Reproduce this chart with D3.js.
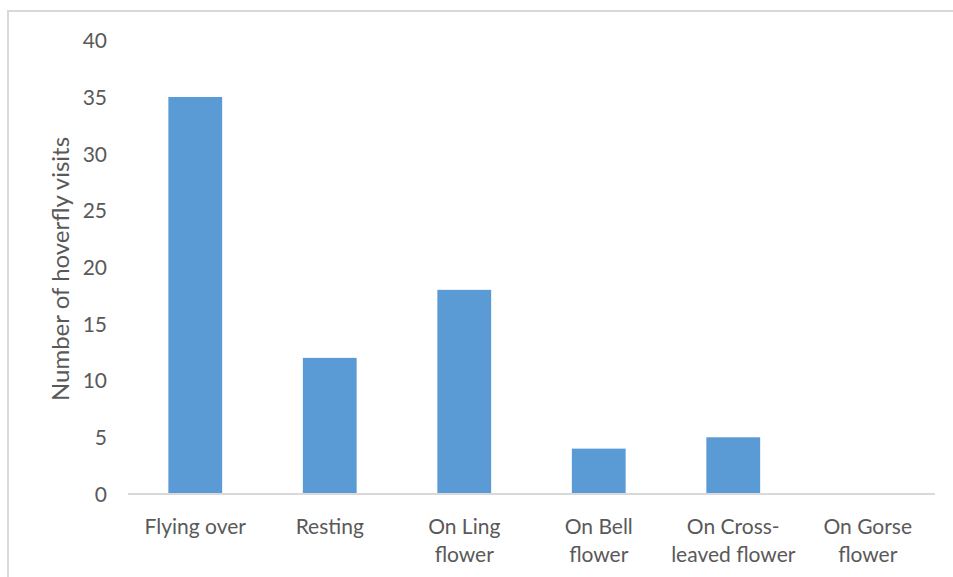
<!DOCTYPE html>
<html>
<head>
<meta charset="utf-8">
<script src="https://cdn.jsdelivr.net/npm/d3@7"></script>
<style>
  html, body { margin: 0; padding: 0; background: #fff; }
  svg { display: block; }
  text { font-family: Lato, "Open Sans", sans-serif; fill: #595959; }
</style>
</head>
<body>
<svg id="chart" width="953" height="577"></svg>
<script>
// Hoverfly behaviour counts
const categories = [
  ["Flying over"],
  ["Resting"],
  ["On Ling", "flower"],
  ["On Bell", "flower"],
  ["On Cross-", "leaved flower"],
  ["On Gorse", "flower"]
];
const visits = [35, 12, 18, 4, 5, 0];
const yTicks = [0, 5, 10, 15, 20, 25, 30, 35, 40];
const yTitle = "Number of hoverfly visits";

const svg = d3.select("#chart");
const margin = { left: 128, right: 18, top: 40.3, bottom: 83 };
const W = 953, H = 577;

// chart frame (top and left edges)
svg.append("path")
  .attr("d", `M8,577 V11 H953`)
  .attr("fill", "none")
  .attr("stroke", "#d9d9d9")
  .attr("stroke-width", 2);

const x = d3.scaleBand()
  .domain(categories.map((d, i) => i))
  .range([margin.left, W - margin.right])
  .paddingInner(0.6)
  .paddingOuter(0.3);

const y = d3.scaleLinear()
  .domain([0, 40])
  .range([494, margin.top]);

// bars
svg.append("g").selectAll("rect")
  .data(visits)
  .join("rect")
  .attr("x", (d, i) => x(i))
  .attr("width", x.bandwidth())
  .attr("y", d => y(d))
  .attr("height", d => y(0) - y(d))
  .attr("fill", "#5b9bd5");

// category axis line
svg.append("line")
  .attr("x1", margin.left).attr("x2", W - margin.right)
  .attr("y1", y(0)).attr("y2", y(0))
  .attr("stroke", "#d9d9d9").attr("stroke-width", 2);

// value axis labels
const yAxis = d3.axisLeft(y).tickValues(yTicks).tickSize(0).tickPadding(0);
const gy = svg.append("g").attr("transform", "translate(107,0)").call(yAxis);
gy.select(".domain").remove();
gy.selectAll("text")
  .attr("font-size", 21)
  .attr("fill", "#595959")
  .attr("font-family", "Lato, 'Open Sans', sans-serif")
  .attr("dy", "0.35em");

// category labels
const labels = svg.append("g").selectAll("text")
  .data(categories)
  .join("text")
  .attr("text-anchor", "middle")
  .attr("font-size", 21)
  .attr("x", (d, i) => x(i) + x.bandwidth() / 2)
  .attr("y", 534);
labels.selectAll("tspan")
  .data(d => d)
  .join("tspan")
  .attr("x", function() { return this.parentNode.getAttribute("x"); })
  .attr("dy", (d, i) => i === 0 ? 0 : 28)
  .text(d => d);

// value axis title
svg.append("text")
  .attr("transform", `translate(69,269) rotate(-90)`)
  .attr("text-anchor", "middle")
  .attr("font-size", 24)
  .text(yTitle);
</script>
</body>
</html>
